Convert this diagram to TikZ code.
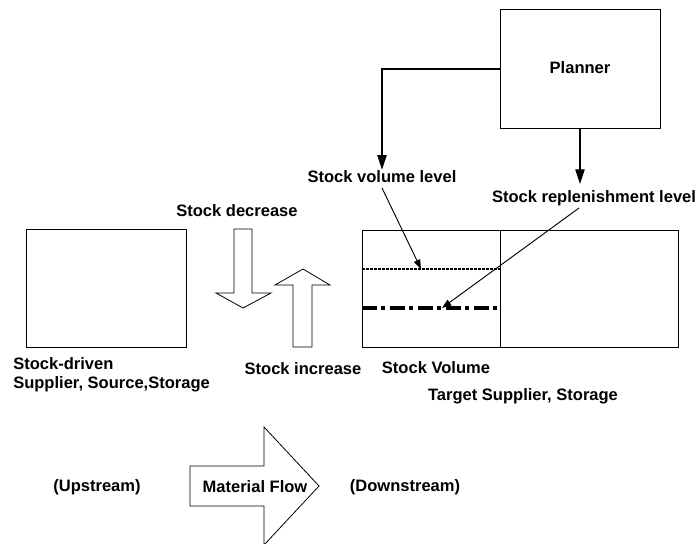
\documentclass[tikz,border=0pt]{standalone}
\usepackage{fontspec}
\setmainfont{Liberation Sans}
\usetikzlibrary{arrows.meta, positioning}
\tikzset{
  box/.style={
    draw,
    line width=0.8pt,
    anchor=north west,
    inner sep=0pt
  },
  lbl/.style={
    anchor=base,
    inner sep=0pt,
    font=\fontsize{12.4}{14.3}\selectfont\bfseries
  },
  blockarrow/.style={
    draw,
    line width=0.6pt,
    fill=white
  },
  bigarrow/.style={
    -{Triangle[length=11pt, width=7pt]},
    line width=0.9pt
  },
  smallarrow/.style={
    -{Triangle[length=7pt, width=5pt]},
    line width=0.7pt
  }
}

\begin{document}
\begin{tikzpicture}[x=0.75pt, y=-0.75pt]
\useasboundingbox (0,0) rectangle (696,543);

% --- Boxes ---
\node[box, minimum width=120pt, minimum height=88.5pt] (source) at (26,229) {};
\node[box, minimum width=103.5pt, minimum height=87.75pt] (stock) at (362,230) {};
\node[box, minimum width=133.5pt, minimum height=87.75pt] (target) at (500,230) {};
\node[box, minimum width=120pt, minimum height=89.25pt] (planner) at (500,9) {};

% --- Levels in the stock ---
\draw[line width=1.7pt, dash pattern=on 2pt off 1pt] (362,269) -- (500,269);
\draw[line width=2.4pt, dash pattern=on 11pt off 3.5pt on 3pt off 3.5pt] (362,308) -- (497,308);
\coordinate (vlevel) at (421,269);
\coordinate (rlevel) at (442,308);

% --- Block arrows ---
\draw[blockarrow] (234,229) -- (252,229) -- (252,293) -- (271,293) -- (243,308)
  -- (216,293) -- (234,293) -- cycle;
\draw[blockarrow] (293,347) -- (312,347) -- (312,285) -- (330,285) -- (303,269)
  -- (275,285) -- (293,285) -- cycle;
\draw[blockarrow] (190,466) -- (264,466) -- (264,427) -- (319,486) -- (264,545)
  -- (264,506) -- (190,506) -- cycle;

% --- Labels ---
\node[lbl] (plannerlbl) at (580,73) {Planner};
\node[lbl] (volume) at (382,182) {Stock volume level};
\node[lbl] (replen) at (594,202) {Stock replenishment level};
\node[lbl] (decrease) at (237,216) {Stock decrease};
\node[lbl] (increase) at (303,374) {Stock increase};
\node[lbl, anchor=north west, align=left] (sourcelbl) at (13,357)
  {Stock-driven\\Supplier, Source,Storage};
\node[lbl] (stocklbl) at (436,373) {Stock Volume};
\node[lbl] (targetlbl) at (523,400) {Target Supplier, Storage};
\node[lbl] (upstream) at (97,491) {(Upstream)};
\node[lbl] (flow) at (255,492) {Material Flow};
\node[lbl] (downstream) at (405,491) {(Downstream)};

% --- Connectors ---
\draw[bigarrow] (planner.west |- 0,69) -| (volume.north);
\draw[bigarrow] (planner.south -| 580,0) -- (580,184);
\draw[smallarrow] (382,188) -- (vlevel);
\draw[smallarrow] (579,208) -- (rlevel);

\end{tikzpicture}
\end{document}
